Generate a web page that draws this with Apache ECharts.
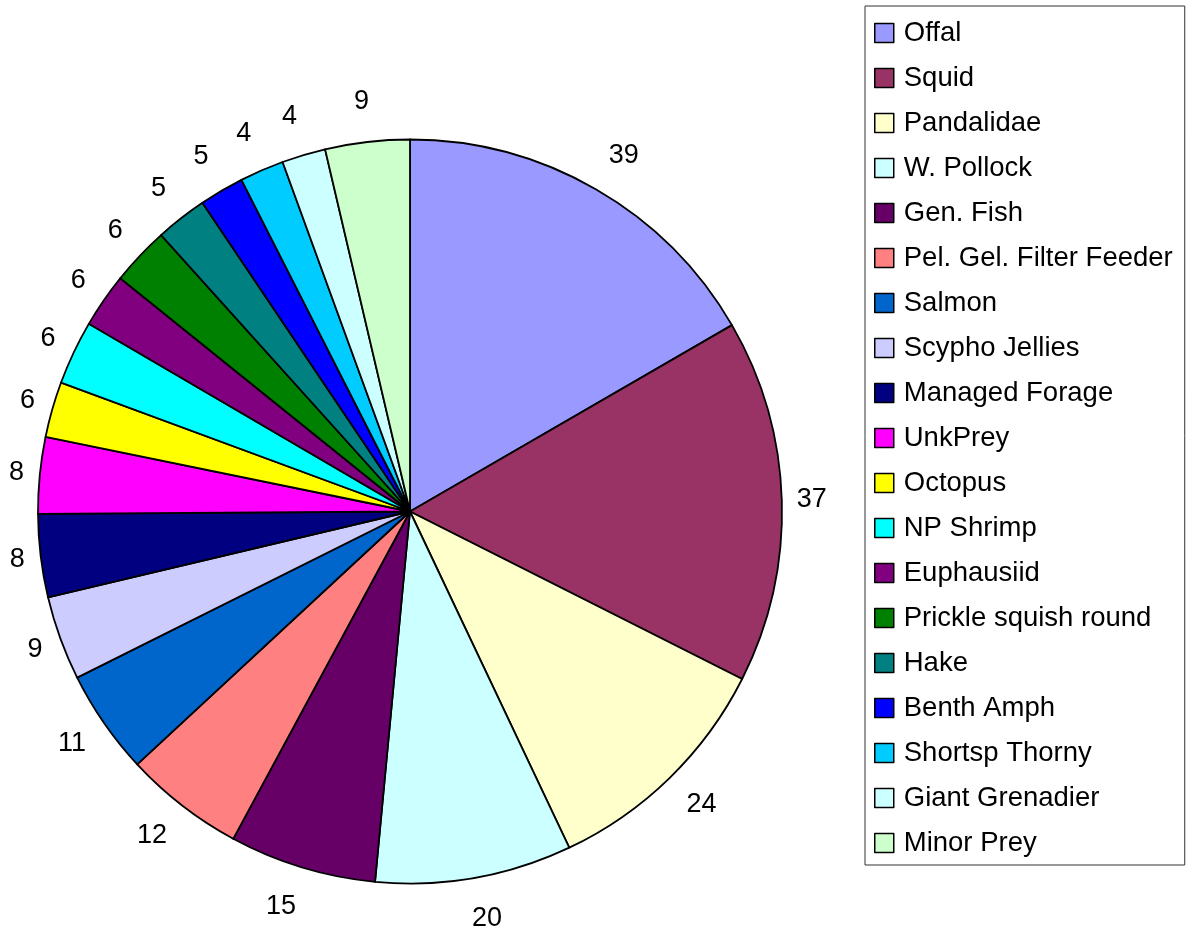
<!DOCTYPE html>
<html><head><meta charset="utf-8">
<script src="https://cdn.jsdelivr.net/npm/echarts@6/dist/echarts.min.js"></script>
<style>html,body{margin:0;padding:0;background:#fff}#c{width:1193px;height:928px}</style>
</head><body><div id="c"></div>
<script>
const categories = ['Offal','Squid','Pandalidae','W. Pollock','Gen. Fish','Pel. Gel. Filter Feeder','Salmon','Scypho Jellies','Managed Forage','UnkPrey','Octopus','NP Shrimp','Euphausiid','Prickle squish round','Hake','Benth Amph','Shortsp Thorny','Giant Grenadier','Minor Prey'];
// values; labels show them rounded
const values = [38.6,36.6,24.4,19.8,14.8,12.1,10.5,8.5,8.35,7.7,5.6,6.45,5.5,5.9,5.2,4.5,4.45,4.4,8.5];
const colors = ['#9999FF','#993366','#FFFFCC','#CCFFFF','#660066','#FF8080','#0066CC','#CCCCFF','#000080','#FF00FF','#FFFF00','#00FFFF','#800080','#008000','#008080','#0000FF','#00CCFF','#CCFFFF','#CCFFCC'];

const FONT = '"Liberation Sans", Arial, sans-serif';
const total = values.reduce((a,b)=>a+b,0);
const mids = []; let acc = 0;
values.forEach(v => { mids.push(acc + v/2); acc += v; });

function labelShift(params){
  const th = mids[params.dataIndex] / total * 2 * Math.PI;
  const ux = Math.sin(th), uy = -Math.cos(th);
  const w = params.labelRect.width, h = params.labelRect.height;
  const d = 11 + 13*Math.abs(uy);
  const cl = v => Math.max(-1, Math.min(1, 3*v));
  return { dx: cl(ux)*w/2 + d*ux, dy: uy*(h/2 + d) };
}

const chart = echarts.init(document.getElementById('c'), null, {renderer:'canvas'});
chart.setOption({
  animation: false,
  backgroundColor: '#fff',
  color: colors,
  legend: {
    data: categories,
    orient: 'vertical',
    left: 865, top: 6,
    padding: [13, 12, 8, 9],
    itemWidth: 19, itemHeight: 19, itemGap: 17,
    icon: 'rect',
    borderColor: '#333', borderWidth: 1,
    itemStyle: { borderColor: '#000', borderWidth: 1.5 },
    textStyle: { fontFamily: FONT, fontSize: 27.5, color: '#000', lineHeight: 27, padding: [0,0,0,5] },
    selectedMode: false
  },
  series: [
    {
      type: 'pie',
      center: [410, 511.5],
      radius: 372,
      startAngle: 90,
      clockwise: true,
      silent: true,
      itemStyle: { borderColor: '#000', borderWidth: 1.8 },
      label: { show: false },
      labelLine: { show: false },
      emphasis: { disabled: true },
      data: categories.map((n,i) => ({ name: n, value: values[i], itemStyle: { color: colors[i] } }))
    },
    {
      type: 'pie',
      center: [410, 511.5],
      radius: [372, 373],
      startAngle: 90,
      clockwise: true,
      silent: true,
      itemStyle: { color: 'rgba(0,0,0,0)', borderWidth: 0 },
      label: { show: true, position: 'inside', fontFamily: FONT, fontSize: 27, color: '#000', formatter: p => String(Math.round(p.value)) },
      labelLine: { show: false },
      emphasis: { disabled: true },
      labelLayout: labelShift,
      data: categories.map((n,i) => ({ name: 'lbl_' + i, value: values[i] }))
    }
  ]
});
</script></body></html>
